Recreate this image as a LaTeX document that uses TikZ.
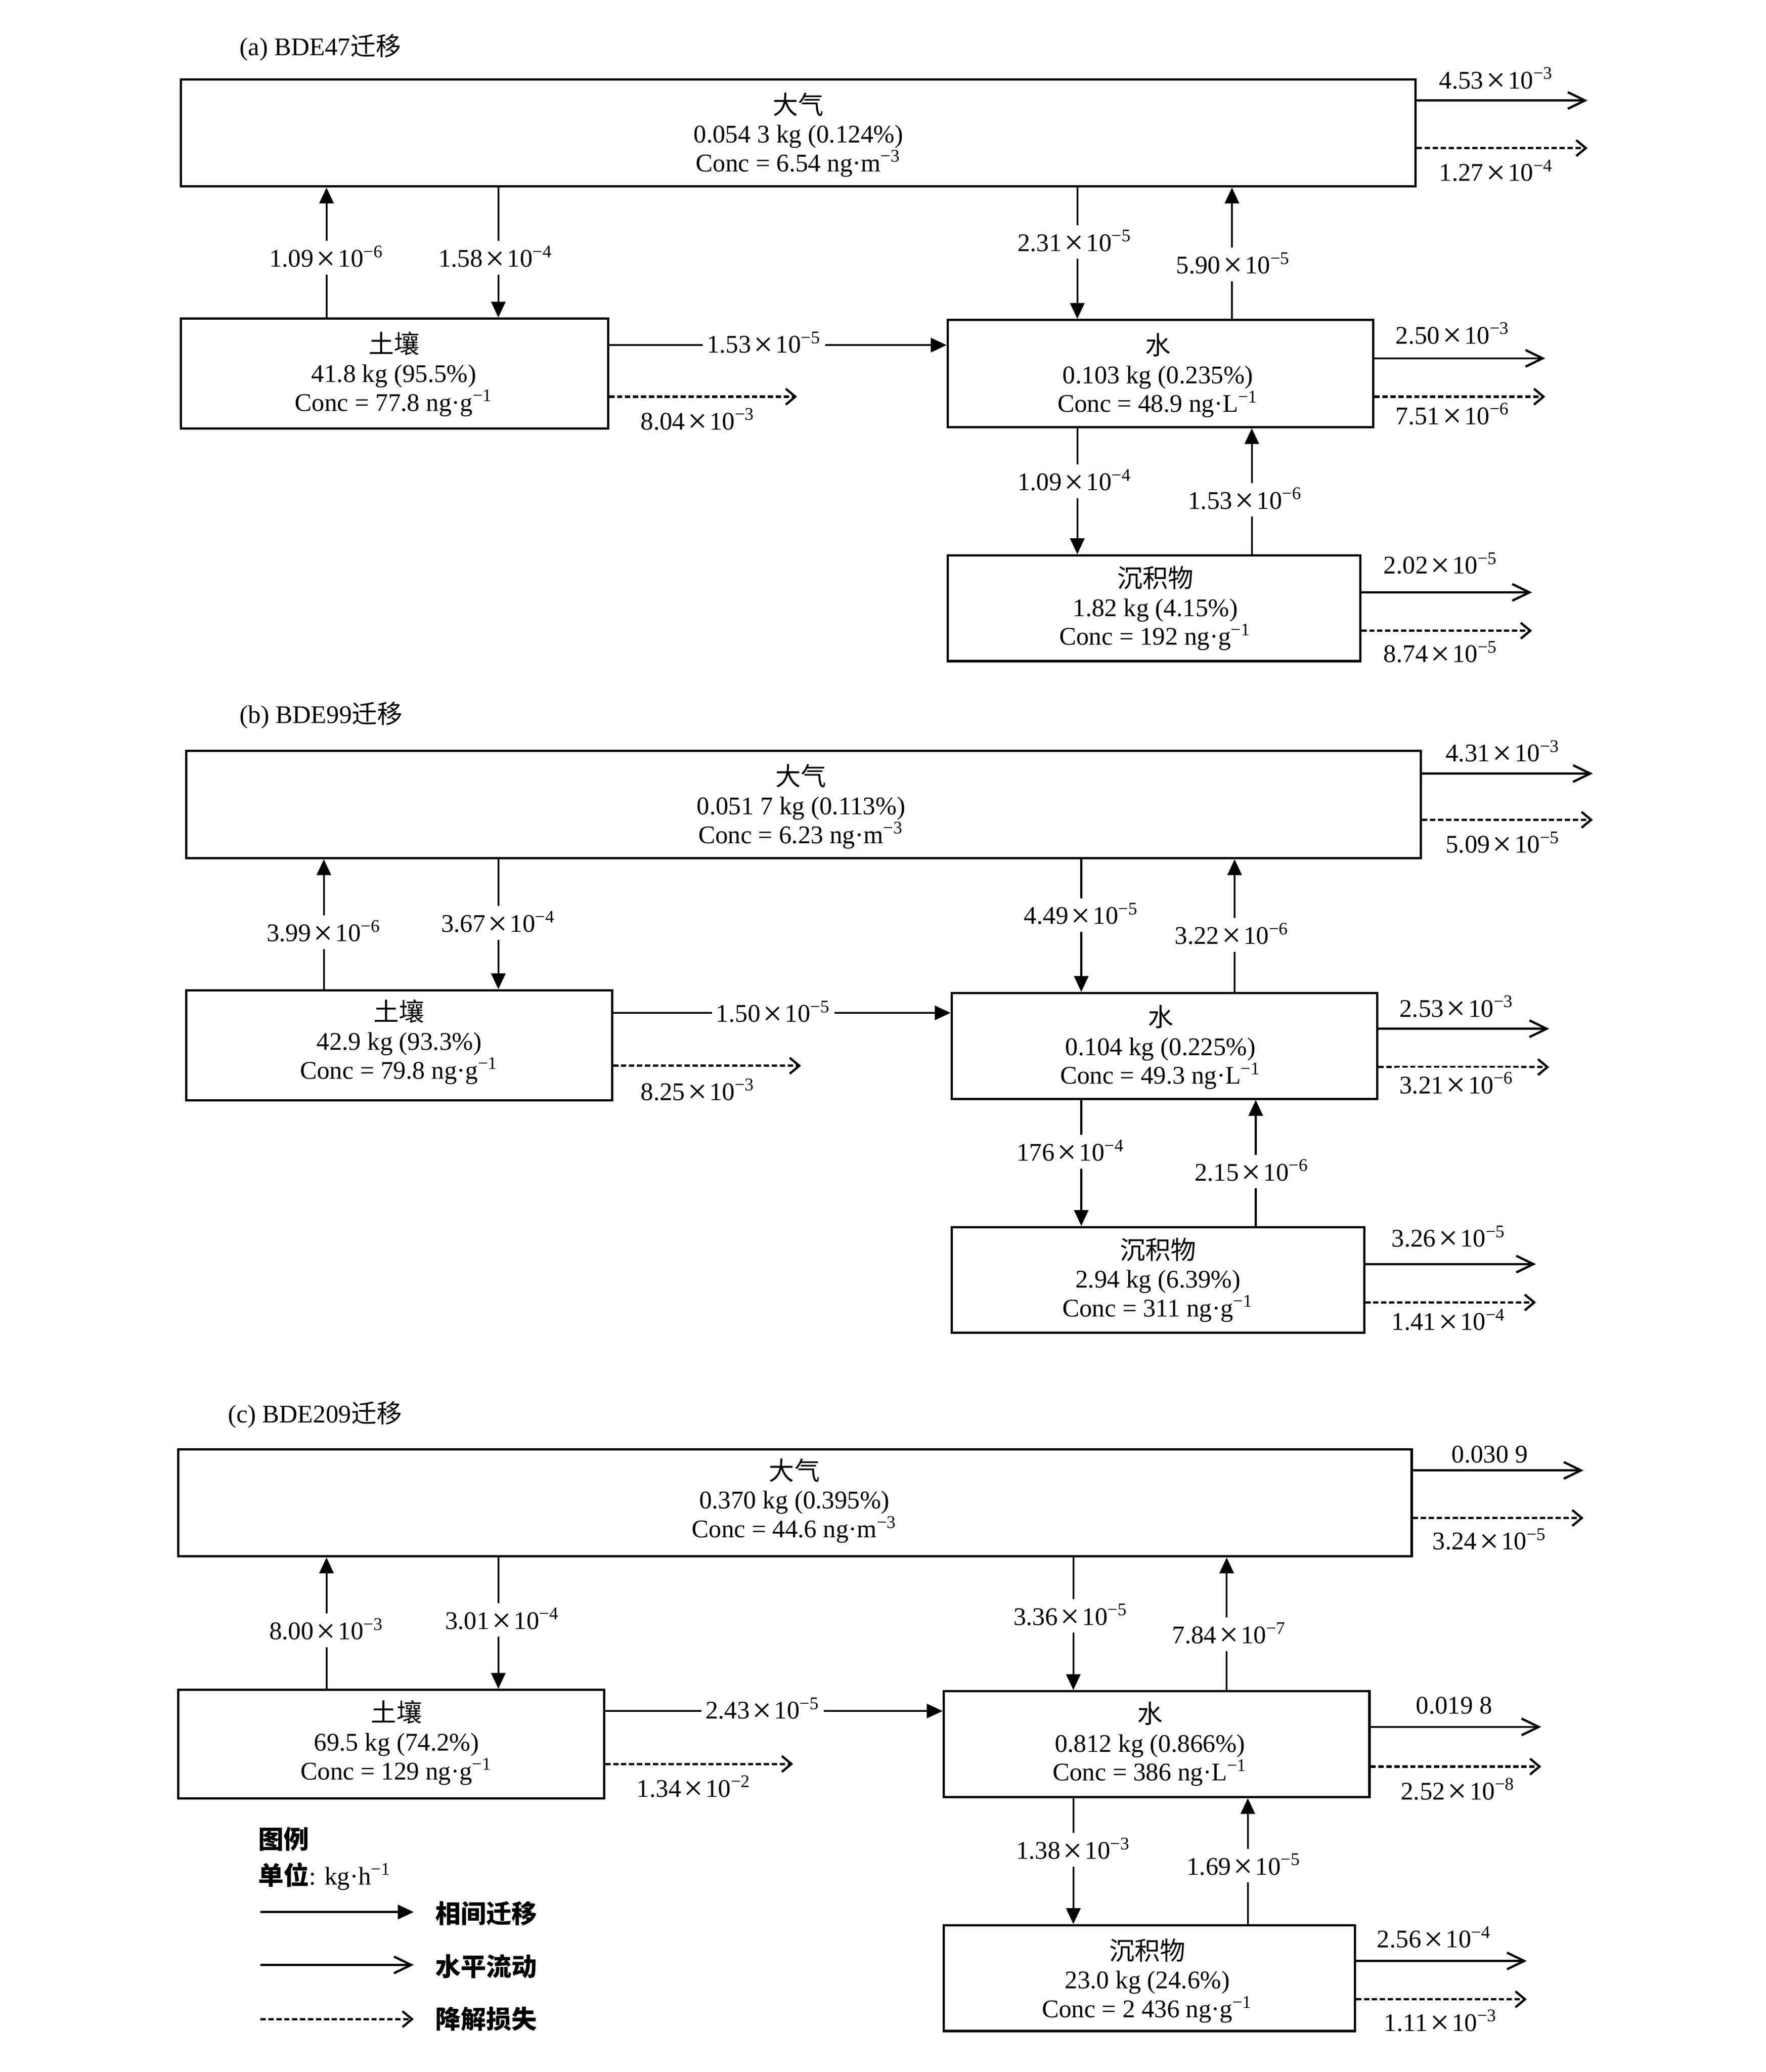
\documentclass[tikz,border=0pt]{standalone}
\usepackage{fontspec}
\usepackage{graphicx}
\setmainfont{Liberation Serif}
\newfontfamily\cjk{Noto Sans CJK SC}
\usetikzlibrary{arrows.meta,fit}
\newcommand\fsz{\fontsize{9.6}{10.9}\selectfont}
\newcommand\sci[2]{#1\kern.1em\raisebox{-0.11em}{\scalebox{1.35}{×}}\kern.1em10\textsuperscript{−#2}}
\newcommand\cj[1]{{\cjk #1}}
\begin{document}
\begin{tikzpicture}[x=0.5pt,y=-0.5pt,font=\fsz,
 box/.style={draw,line width=0.85pt,inner sep=0pt},
 txt/.style={align=center,inner sep=0pt},
 lab/.style={fill=white,inner xsep=1.5pt,inner ysep=1.8pt},
 ttl/.style={anchor=west,inner sep=0pt},
 tr/.style={line width=0.7pt,-{Triangle[length=6pt,width=5.4pt]}},
 fl/.style={line width=0.75pt,-{Straight Barb[length=6.5pt,width=6.3pt,line width=0.85pt]}},
 dg/.style={line width=0.85pt,dash pattern=on 2pt off 1pt,-{Straight Barb[length=3.6pt,width=6pt,line width=0.85pt]}}]
\useasboundingbox (0,0) rectangle (1336,1567);

% ---------------- panel (a)
\node[ttl] (aT) at (181,36) {(a) BDE47\cj{迁移}};
\node[box,fit={(137,60)(1071,141)}] (aA) {};
\node[box,fit={(137,241)(460,324)}] (aS) {};
\node[box,fit={(717,242)(1039,323)}] (aW) {};
\node[box,fit={(717,420)(1029,500)}] (aD) {};
\node[txt] (aAt) at (604,102) {\cj{大气}\\0.054 3 kg (0.124\%)\\Conc = 6.54 ng·m\textsuperscript{−3}};
\node[txt] (aSt) at (298,283) {\cj{土壤}\\41.8 kg (95.5\%)\\Conc = 77.8 ng·g\textsuperscript{−1}};
\node[txt] (aWt) at (876,284) {\cj{水}\\0.103 kg (0.235\%)\\Conc = 48.9 ng·L\textsuperscript{−1}};
\node[txt] (aDt) at (874,460) {\cj{沉积物}\\1.82 kg (4.15\%)\\Conc = 192 ng·g\textsuperscript{−1}};
\coordinate (aAo1) at (1201,76);
\coordinate (aAo2) at (1201,112);
\draw[fl] (aA.east |- aAo1) -- (aAo1);
\draw[dg] (aA.east |- aAo2) -- (aAo2);
\node[lab] (aL1) at (1132,60) {\sci{4.53}{3}};
\node[lab] (aL2) at (1132,130) {\sci{1.27}{4}};
\draw[tr] (aS.north -| 247,0) -- (aA.south -| 247,0);
\node[lab] (aL3) at (247,195) {\sci{1.09}{6}};
\draw[tr] (aA.south -| 377,0) -- (aS.north -| 377,0);
\node[lab] (aL4) at (375,195) {\sci{1.58}{4}};
\draw[tr] (aS.east |- 0,261) -- (aW.west |- 0,261);
\node[lab] (aL5) at (578,260) {\sci{1.53}{5}};
\coordinate (aSo) at (603,300);
\draw[dg] (aS.east |- aSo) -- (aSo);
\node[lab] (aL6) at (528,318) {\sci{8.04}{3}};
\draw[tr] (aA.south -| 815,0) -- (aW.north -| 815,0);
\node[lab] (aL7) at (813,183) {\sci{2.31}{5}};
\draw[tr] (aW.north -| 932,0) -- (aA.south -| 932,0);
\node[lab] (aL8) at (933,200) {\sci{5.90}{5}};
\coordinate (aWo1) at (1169,271);
\coordinate (aWo2) at (1169,300);
\draw[fl] (aW.east |- aWo1) -- (aWo1);
\draw[dg] (aW.east |- aWo2) -- (aWo2);
\node[lab] (aL9) at (1099,253) {\sci{2.50}{3}};
\node[lab] (aL10) at (1099,314) {\sci{7.51}{6}};
\draw[tr] (aW.south -| 815,0) -- (aD.north -| 815,0);
\node[lab] (aL11) at (813,364) {\sci{1.09}{4}};
\draw[tr] (aD.north -| 947,0) -- (aW.south -| 947,0);
\node[lab] (aL12) at (942,378) {\sci{1.53}{6}};
\coordinate (aDo1) at (1159,448);
\coordinate (aDo2) at (1159,477);
\draw[fl] (aD.east |- aDo1) -- (aDo1);
\draw[dg] (aD.east |- aDo2) -- (aDo2);
\node[lab] (aL13) at (1090,427) {\sci{2.02}{5}};
\node[lab] (aL14) at (1090,494) {\sci{8.74}{5}};

% ---------------- panel (b)
\node[ttl] (bT) at (181,541) {(b) BDE99\cj{迁移}};
\node[box,fit={(141,568)(1075,649)}] (bA) {};
\node[box,fit={(141,749)(463,832)}] (bS) {};
\node[box,fit={(720,751)(1042,831)}] (bW) {};
\node[box,fit={(720,928)(1032,1008)}] (bD) {};
\node[txt] (bAt) at (606,610) {\cj{大气}\\0.051 7 kg (0.113\%)\\Conc = 6.23 ng·m\textsuperscript{−3}};
\node[txt] (bSt) at (302,788) {\cj{土壤}\\42.9 kg (93.3\%)\\Conc = 79.8 ng·g\textsuperscript{−1}};
\node[txt] (bWt) at (878,792) {\cj{水}\\0.104 kg (0.225\%)\\Conc = 49.3 ng·L\textsuperscript{−1}};
\node[txt] (bDt) at (876,968) {\cj{沉积物}\\2.94 kg (6.39\%)\\Conc = 311 ng·g\textsuperscript{−1}};
\coordinate (bAo1) at (1205,585);
\coordinate (bAo2) at (1205,620);
\draw[fl] (bA.east |- bAo1) -- (bAo1);
\draw[dg] (bA.east |- bAo2) -- (bAo2);
\node[lab] (bL1) at (1137,569) {\sci{4.31}{3}};
\node[lab] (bL2) at (1137,638) {\sci{5.09}{5}};
\draw[tr] (bS.north -| 245,0) -- (bA.south -| 245,0);
\node[lab] (bL3) at (245,705) {\sci{3.99}{6}};
\draw[tr] (bA.south -| 377,0) -- (bS.north -| 377,0);
\node[lab] (bL4) at (377,698) {\sci{3.67}{4}};
\draw[tr] (bS.east |- 0,766) -- (bW.west |- 0,766);
\node[lab] (bL5) at (585,766) {\sci{1.50}{5}};
\coordinate (bSo) at (606,806);
\draw[dg] (bS.east |- bSo) -- (bSo);
\node[lab] (bL6) at (528,825) {\sci{8.25}{3}};
\draw[tr] (bA.south -| 818,0) -- (bW.north -| 818,0);
\node[lab] (bL7) at (818,692) {\sci{4.49}{5}};
\draw[tr] (bW.north -| 934,0) -- (bA.south -| 934,0);
\node[lab] (bL8) at (932,707) {\sci{3.22}{6}};
\coordinate (bWo1) at (1172,778);
\coordinate (bWo2) at (1172,807);
\draw[fl] (bW.east |- bWo1) -- (bWo1);
\draw[dg] (bW.east |- bWo2) -- (bWo2);
\node[lab] (bL9) at (1102,762) {\sci{2.53}{3}};
\node[lab] (bL10) at (1102,820) {\sci{3.21}{6}};
\draw[tr] (bW.south -| 818,0) -- (bD.north -| 818,0);
\node[lab] (bL11) at (810,871) {\sci{176}{4}};
\draw[tr] (bD.north -| 950,0) -- (bW.south -| 950,0);
\node[lab] (bL12) at (947,886) {\sci{2.15}{6}};
\coordinate (bDo1) at (1162,956);
\coordinate (bDo2) at (1162,985);
\draw[fl] (bD.east |- bDo1) -- (bDo1);
\draw[dg] (bD.east |- bDo2) -- (bDo2);
\node[lab] (bL13) at (1096,936) {\sci{3.26}{5}};
\node[lab] (bL14) at (1096,999) {\sci{1.41}{4}};

% ---------------- panel (c)
\node[ttl] (cT) at (172,1070) {(c) BDE209\cj{迁移}};
\node[box,fit={(135,1096)(1068,1177)}] (cA) {};
\node[box,fit={(135,1278)(457,1360)}] (cS) {};
\node[box,fit={(714,1279)(1036,1359)}] (cW) {};
\node[box,fit={(714,1456)(1025,1536)}] (cD) {};
\node[txt] (cAt) at (601,1135) {\cj{大气}\\0.370 kg (0.395\%)\\Conc = 44.6 ng·m\textsuperscript{−3}};
\node[txt] (cSt) at (300,1318) {\cj{土壤}\\69.5 kg (74.2\%)\\Conc = 129 ng·g\textsuperscript{−1}};
\node[txt] (cWt) at (870,1319) {\cj{水}\\0.812 kg (0.866\%)\\Conc = 386 ng·L\textsuperscript{−1}};
\node[txt] (cDt) at (868,1498) {\cj{沉积物}\\23.0 kg (24.6\%)\\Conc = 2 436 ng·g\textsuperscript{−1}};
\coordinate (cAo1) at (1198,1112);
\coordinate (cAo2) at (1198,1148);
\draw[fl] (cA.east |- cAo1) -- (cAo1);
\draw[dg] (cA.east |- cAo2) -- (cAo2);
\node[lab] (cL1) at (1127,1100) {0.030 9};
\node[lab] (cL2) at (1127,1165) {\sci{3.24}{5}};
\draw[tr] (cS.north -| 247,0) -- (cA.south -| 247,0);
\node[lab] (cL3) at (247,1233) {\sci{8.00}{3}};
\draw[tr] (cA.south -| 377,0) -- (cS.north -| 377,0);
\node[lab] (cL4) at (380,1225) {\sci{3.01}{4}};
\draw[tr] (cS.east |- 0,1294) -- (cW.west |- 0,1294);
\node[lab] (cL5) at (577,1293) {\sci{2.43}{5}};
\coordinate (cSo) at (600,1334);
\draw[dg] (cS.east |- cSo) -- (cSo);
\node[lab] (cL6) at (525,1352) {\sci{1.34}{2}};
\draw[tr] (cA.south -| 812,0) -- (cW.north -| 812,0);
\node[lab] (cL7) at (810,1222) {\sci{3.36}{5}};
\draw[tr] (cW.north -| 928,0) -- (cA.south -| 928,0);
\node[lab] (cL8) at (930,1236) {\sci{7.84}{7}};
\coordinate (cWo1) at (1166,1306);
\coordinate (cWo2) at (1166,1336);
\draw[fl] (cW.east |- cWo1) -- (cWo1);
\draw[dg] (cW.east |- cWo2) -- (cWo2);
\node[lab] (cL9) at (1100,1290) {0.019 8};
\node[lab] (cL10) at (1103,1354) {\sci{2.52}{8}};
\draw[tr] (cW.south -| 812,0) -- (cD.north -| 812,0);
\node[lab] (cL11) at (812,1399) {\sci{1.38}{3}};
\draw[tr] (cD.north -| 944,0) -- (cW.south -| 944,0);
\node[lab] (cL12) at (941,1411) {\sci{1.69}{5}};
\coordinate (cDo1) at (1155,1483);
\coordinate (cDo2) at (1155,1512);
\draw[fl] (cD.east |- cDo1) -- (cDo1);
\draw[dg] (cD.east |- cDo2) -- (cDo2);
\node[lab] (cL13) at (1085,1466) {\sci{2.56}{4}};
\node[lab] (cL14) at (1090,1529) {\sci{1.11}{3}};

% ---------------- legend
\node[ttl] (lgT) at (195,1391) {\cjk\bfseries 图例};
\node[ttl] (lgU) at (195,1419) {{\cjk\bfseries 单位}: kg·h\textsuperscript{−1}};
\coordinate (lg1a) at (197,1446); \coordinate (lg1b) at (313,1446);
\coordinate (lg2a) at (197,1486); \coordinate (lg2b) at (313,1486);
\coordinate (lg3a) at (197,1527); \coordinate (lg3b) at (313,1527);
\draw[tr,line width=0.8pt] (lg1a) -- (lg1b);
\draw[fl,line width=0.8pt] (lg2a) -- (lg2b);
\draw[dg,line width=0.85pt] (lg3a) -- (lg3b);
\node[ttl] (lg1) at (329,1447) {\cjk\bfseries 相间迁移};
\node[ttl] (lg2) at (329,1487) {\cjk\bfseries 水平流动};
\node[ttl] (lg3) at (329,1527) {\cjk\bfseries 降解损失};
\end{tikzpicture}
\end{document}
